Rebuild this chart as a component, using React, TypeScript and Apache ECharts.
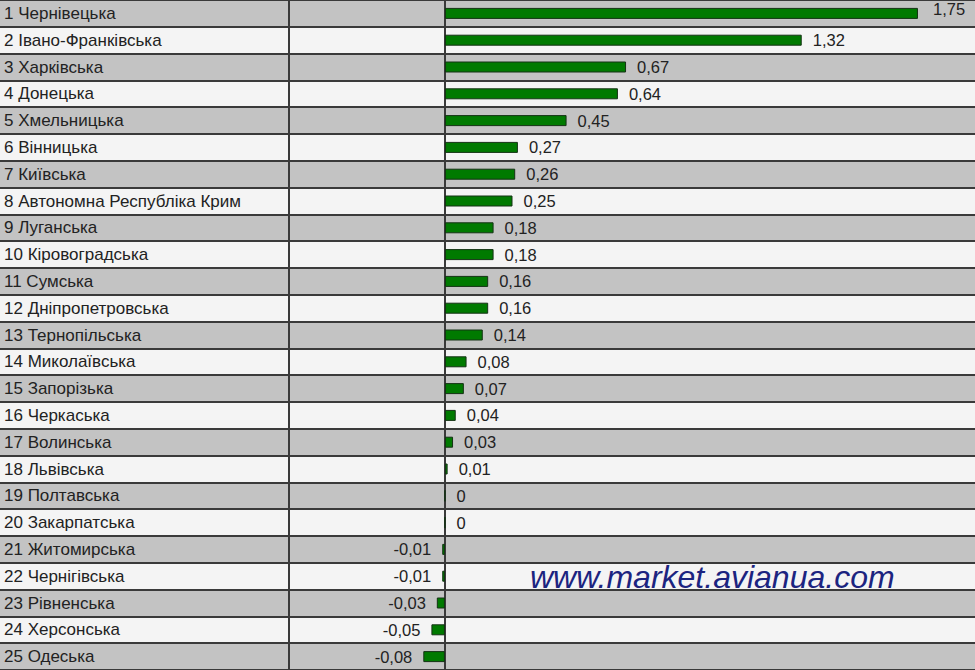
import React, { useEffect, useRef } from "react";
import * as echarts from "echarts";

const regions: string[] = [
  "1 Чернівецька",
  "2 Івано-Франківська",
  "3 Харківська",
  "4 Донецька",
  "5 Хмельницька",
  "6 Вінницька",
  "7 Київська",
  "8 Автономна Республіка Крим",
  "9 Луганська",
  "10 Кіровоградська",
  "11 Сумська",
  "12 Дніпропетровська",
  "13 Тернопільська",
  "14 Миколаївська",
  "15 Запорізька",
  "16 Черкаська",
  "17 Волинська",
  "18 Львівська",
  "19 Полтавська",
  "20 Закарпатська",
  "21 Житомирська",
  "22 Чернігівська",
  "23 Рівненська",
  "24 Херсонська",
  "25 Одеська",
];

const values: number[] = [
  1.75, 1.32, 0.67, 0.64, 0.45, 0.27, 0.26, 0.25, 0.18, 0.18, 0.16, 0.16, 0.14,
  0.08, 0.07, 0.04, 0.03, 0.01, 0, 0, -0.01, -0.01, -0.03, -0.05, -0.08,
];

const watermark = "www.market.avianua.com";

const FONT = "'Liberation Sans', Arial, sans-serif";

const fmt = (v: number) => (v === 0 ? "0" : v.toFixed(2).replace(".", ","));

export default function App() {
  const ref = useRef<HTMLDivElement>(null);
  useEffect(() => {
    document.body.style.margin = "0";
    if (!ref.current) return;
    const chart = echarts.init(ref.current, null, { renderer: "svg" });
    const data = values.map((v, i) => ({
      value: v,
      label: {
        position: v < 0 ? "left" : "right",
        offset: i === 0 ? [4, -4] : [0, 0],
      },
    }));
    chart.setOption({
      animation: false,
      backgroundColor: "#f4f4f4",
      grid: {
        left: 0,
        right: 0,
        top: 0,
        bottom: 0,
        containLabel: false,
        outerBoundsMode: "none",
      },
      xAxis: {
        type: "value",
        min: -1.646,
        max: 1.961,
        show: false,
      },
      yAxis: {
        type: "category",
        inverse: true,
        data: regions,
        axisLine: { show: true, onZero: true, lineStyle: { color: "#3a3a3a", width: 2 } },
        axisTick: { show: true, length: 3, lineStyle: { color: "#3a3a3a", width: 2 } },
        axisLabel: {
          align: "left",
          margin: -4,
          fontSize: 17,
          color: "#222",
          fontFamily: FONT,
          padding: [6, 0, 0, 0],
        },
        splitLine: { show: true, lineStyle: { color: "#3a3a3a", width: 2 } },
        splitArea: { show: true, areaStyle: { color: ["#c3c3c3", "#f4f4f4"] } },
      },
      series: [
        {
          type: "bar",
          data,
          barWidth: 11,
          itemStyle: { color: "#007a00", borderColor: "#143214", borderWidth: 1 },
          label: {
            show: true,
            distance: 11,
            fontSize: 16.5,
            color: "#222",
            fontFamily: FONT,
            formatter: (p: any) => fmt(p.value),
          },
        },
      ],
      graphic: [
        {
          type: "line",
          shape: { x1: 289, y1: 0, x2: 289, y2: 670 },
          style: { stroke: "#3a3a3a", lineWidth: 2 },
          z: 10,
        },
        {
          type: "text",
          left: 530,
          top: 561,
          style: {
            text: watermark,
            fontSize: 32,
            fontStyle: "italic",
            fontFamily: FONT,
            fill: "#1c2480",
          },
          z: 10,
        },
      ],
    });
    return () => chart.dispose();
  }, []);
  return <div ref={ref} style={{ width: 975, height: 670 }} />;
}
